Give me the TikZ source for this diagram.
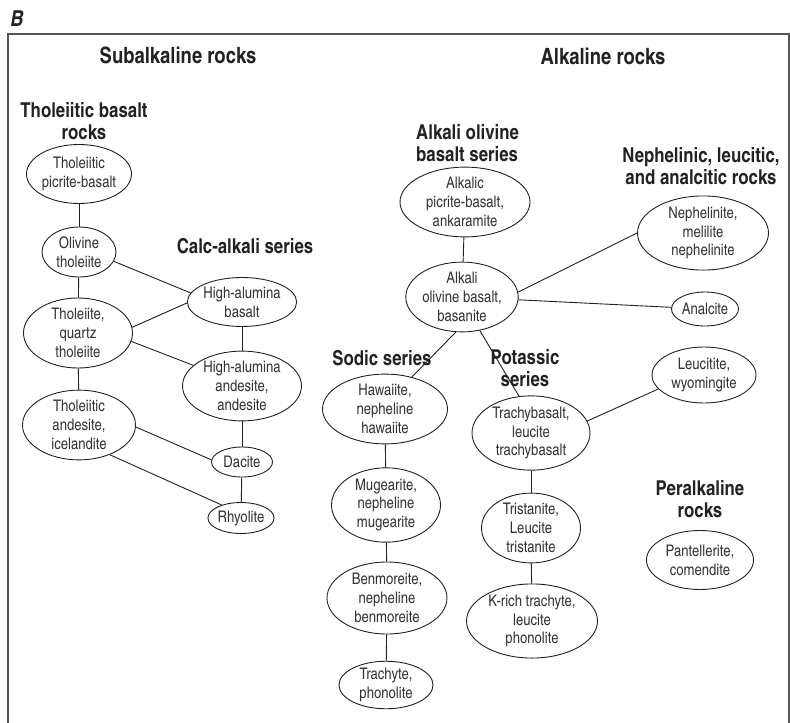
\documentclass[tikz,border=0pt]{standalone}
\usepackage{fontspec}
\setmainfont{texgyreheroscn}[Extension=.otf, UprightFont=*-regular, BoldFont=*-bold, ItalicFont=*-italic, BoldItalicFont=*-bolditalic]
\usetikzlibrary{shapes.geometric}
\definecolor{ink}{HTML}{222222}
\definecolor{rocktext}{HTML}{333333}
\definecolor{framegray}{HTML}{555555}
\begin{document}
\begin{tikzpicture}[x=1pt,y=-1pt,
  rock/.style={ellipse, draw=ink, line width=0.9pt, inner sep=0pt, align=center,
    text=rocktext, font=\fontsize{16}{18.8}\selectfont},
  head/.style={font=\fontsize{20.5}{21.5}\selectfont\bfseries, text=ink, align=center, inner sep=0pt},
  bighead/.style={head, font=\fontsize{22.5}{24}\selectfont\bfseries},
  link/.style={draw=ink, line width=0.9pt}]
\useasboundingbox (0,0) rectangle (790,723);
\fill[white] (0,0) rectangle (790,723);

% subalkaline rocks
\node[rock, minimum width=105, minimum height=59] (tpb) at (79,174) {Tholeiitic\\picrite-basalt};
\node[rock, minimum width=74, minimum height=50] (olt) at (79,252) {Olivine\\tholeiite};
\node[rock, minimum width=109, minimum height=70] (tqt) at (78,333) {Tholeiite,\\quartz\\tholeiite};
\node[rock, minimum width=113, minimum height=65] (tai) at (79,425) {Tholeiitic\\andesite,\\icelandite};
\node[rock, minimum width=106, minimum height=49] (hab) at (242,302) {High-alumina\\basalt};
\node[rock, minimum width=119, minimum height=68] (haa) at (242,386) {High-alumina\\andesite,\\andesite};
\node[rock, minimum width=61, minimum height=30] (dac) at (242,462) {Dacite};
\node[rock, minimum width=66, minimum height=31] (rhy) at (241,518) {Rhyolite};

% alkaline rocks
\node[rock, minimum width=130, minimum height=63] (apb) at (465,202) {Alkalic\\picrite-basalt,\\ankaramite};
\node[rock, minimum width=107, minimum height=62] (aob) at (462,297) {Alkali\\olivine basalt,\\basanite};
\node[rock, minimum width=131, minimum height=70] (nmn) at (703,233) {Nephelinite,\\melilite\\nephelinite};
\node[rock, minimum width=67, minimum height=34] (anl) at (705,309) {Analcite};
\node[rock, minimum width=125, minimum height=65] (haw) at (385,409) {Hawaiite,\\nepheline\\hawaiite};
\node[rock, minimum width=109, minimum height=66] (mug) at (386,505) {Mugearite,\\nepheline\\mugearite};
\node[rock, minimum width=120, minimum height=72] (ben) at (387,598) {Benmoreite,\\nepheline\\benmoreite};
\node[rock, minimum width=94, minimum height=46] (trp) at (386,685) {Trachyte,\\phonolite};
\node[rock, minimum width=104, minimum height=56] (leu) at (704,375) {Leucitite,\\wyomingite};
\node[rock, minimum width=118, minimum height=72] (trb) at (531,433) {Trachybasalt,\\leucite\\trachybasalt};
\node[rock, minimum width=99, minimum height=67] (tri) at (531,528) {Tristanite,\\Leucite\\tristanite};
\node[rock, minimum width=131, minimum height=73] (krt) at (532,621) {K-rich trachyte,\\leucite\\phonolite};
\node[rock, minimum width=107, minimum height=59] (pan) at (700,560) {Pantellerite,\\comendite};

% series headings
\node[head] (thol) at (84,121) {Tholeiitic basalt\\rocks};
\node[head] (calc) at (245,246) {Calc-alkali series};
\node[head, align=left, anchor=west] (aobs) at (416,143) {Alkali olivine\\basalt series};
\node[head] (neph) at (701,166) {Nephelinic, leucitic,\\and analcitic rocks};
\node[head] (sodic) at (382,358) {Sodic series};
\node[head] (potas) at (525,368) {Potassic\\series};
\node[head] (peralk) at (700,499) {Peralkaline\\rocks};

% group headings and panel letter
\node[bighead] (subalk) at (178,55) {Subalkaline rocks};
\node[bighead] (alk) at (603,56) {Alkaline rocks};
\node[head, font=\fontsize{22}{23}\selectfont\bfseries\itshape] (panel) at (17,19) {B};

% frame, open at the bottom
\draw[framegray, line width=1.6pt] (8,723) -- (8,34) -- (789,34) -- (789,723);

% subalkaline connectors
\draw[link] (tpb) -- (olt);
\draw[link] (olt) -- (tqt);
\draw[link] (tqt) -- (tai);
\draw[link] (olt.-15) -- (hab.170);
\draw[link] (tqt.6) -- (hab.181);
\draw[link] (tqt.-9) -- (haa.157);
\draw[link] (hab) -- (haa);
\draw[link] (haa) -- (dac);
\draw[link] (dac) -- (rhy);
\draw[link] (tai.-2) -- (dac.176);
\draw[link] (tai.-44) -- (rhy.146);

% alkaline connectors
\draw[link] (apb) -- (aob);
\draw[link] (aob.5) -- (nmn.180);
\draw[link] (aob) -- (anl);
\draw[link] (aob.-100) -- (haw.50);
\draw[link] (aob.-62) -- (trb.108);
\draw[link] (haw) -- (mug);
\draw[link] (mug) -- (ben);
\draw[link] (ben) -- (trp);
\draw[link] (trb.12) -- (leu.197);
\draw[link] (trb) -- (tri);
\draw[link] (tri) -- (krt);
\end{tikzpicture}
\end{document}
